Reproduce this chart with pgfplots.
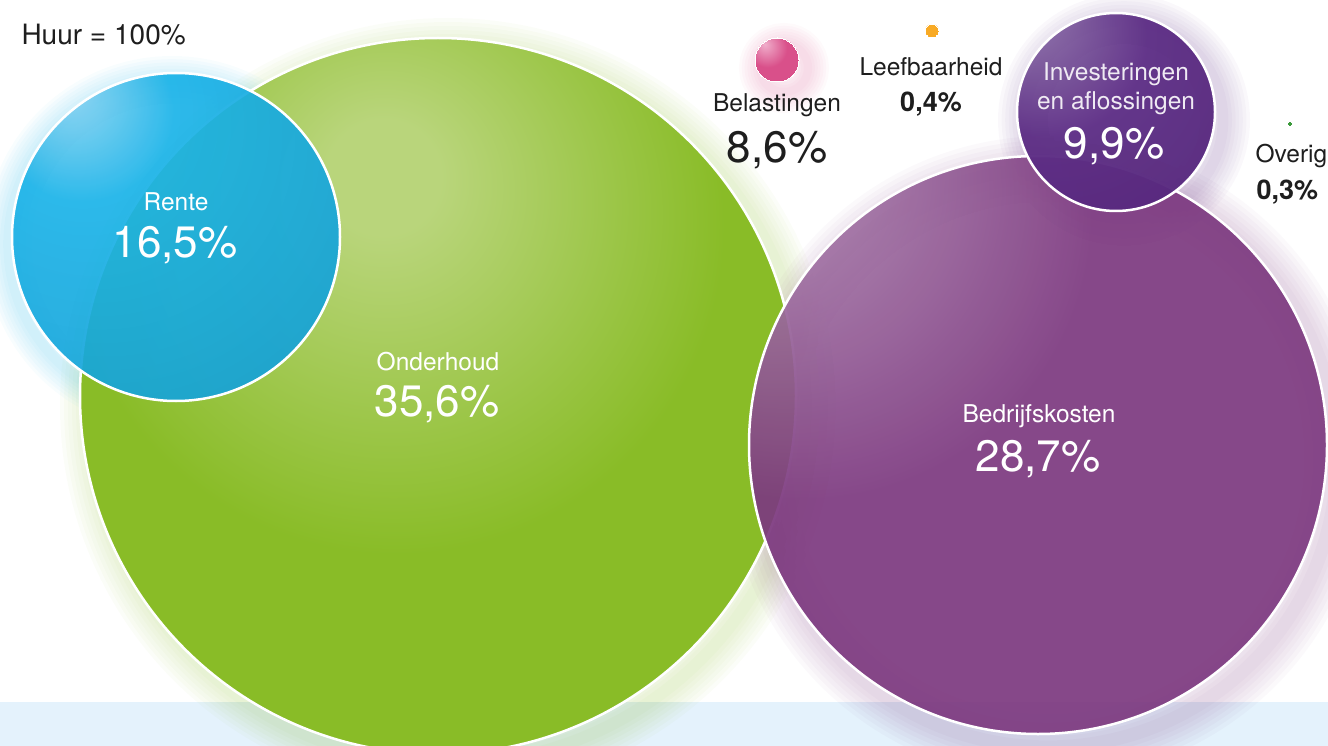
\documentclass[border=0pt]{standalone}
\usepackage{pgfplots}
\pgfplotsset{compat=1.18}
\usepackage{fontspec}
\setmainfont{TeX Gyre Heros}

\definecolor{greenmain}{HTML}{89BC27}
\definecolor{greenlight}{HTML}{B9D57B}
\definecolor{bluemain}{HTML}{1AB3E8}
\definecolor{bluelight}{HTML}{93D6F3}
\definecolor{bluedark}{HTML}{15A0D5}
\definecolor{purmain}{HTML}{7D3A80}
\definecolor{purlight}{HTML}{B794B9}
\definecolor{invmain}{HTML}{5E2F86}
\definecolor{invlight}{HTML}{9479AE}
\definecolor{invdark}{HTML}{532579}
\definecolor{pinkmain}{HTML}{D9508A}
\definecolor{pinklight}{HTML}{F0AECB}
\definecolor{orangemain}{HTML}{F8AA25}
\definecolor{dotgreen}{HTML}{3C9A3C}
\definecolor{bandblue}{HTML}{E4F2FC}
\definecolor{txt}{HTML}{1E1E1E}

\pgfdeclareradialshading{shgreen}{\pgfpoint{-4bp}{16bp}}{color(0bp)=(greenlight); color(4bp)=(greenlight); color(23bp)=(greenmain); color(90bp)=(greenmain)}
\pgfdeclareradialshading{shblue}{\pgfpoint{-17bp}{23bp}}{color(0bp)=(bluelight); color(14bp)=(bluemain); color(45bp)=(bluedark); color(90bp)=(bluedark)}
\pgfdeclareradialshading{shpurple}{\pgfpoint{-27bp}{27bp}}{color(0bp)=(purlight); color(25bp)=(purmain); color(100bp)=(purmain)}
\pgfdeclareradialshading{shinv}{\pgfpoint{-24bp}{26bp}}{color(0bp)=(invlight); color(26bp)=(invmain); color(60bp)=(invdark); color(100bp)=(invdark)}
\pgfdeclareradialshading{shpink}{\pgfpoint{-14bp}{18bp}}{color(0bp)=(pinklight); color(22bp)=(pinkmain); color(90bp)=(pinkmain)}
\pgfdeclareradialshading{shorange}{\pgfpointorigin}{color(0bp)=(orangemain); color(90bp)=(orangemain)}
\pgfdeclareradialshading{shdot}{\pgfpointorigin}{color(0bp)=(dotgreen); color(90bp)=(dotgreen)}

\pgfdeclareplotmark{empty}{}
\pgfplotsset{
  halo/.style 2 args={only marks, mark=empty, scatter,
    visualization depends on={\thisrow{r}\as\rad},
    scatter/@pre marker code/.code={%
      \foreach \k in {3.0,2.6,2.2,1.8,1.4,1.0,0.6}{%
        \draw[#1, line width=\k*#2, draw opacity=0.03] (canvas cs:x=0pt,y=0pt) circle[radius=\rad pt];}},
    scatter/@post marker code/.code={}},
  bubble/.style n args={3}{only marks, mark=empty, scatter,
    visualization depends on={\thisrow{r}\as\rad},
    scatter/@pre marker code/.code={\shade[shading=#1, fill opacity=#2, draw=white, line width=#3] (canvas cs:x=0pt,y=0pt) circle[radius=\rad pt];},
    scatter/@post marker code/.code={}},
  frame/.style={at={(0,0)}, anchor=south west, scale only axis,
  width=1328pt, height=746pt, xmin=0, xmax=1328, ymin=0, ymax=746,
  y dir=reverse, hide axis, clip=false},
}

\begin{document}
\begin{tikzpicture}
\begin{axis}[frame]
\fill[bandblue] (axis cs:0,702) rectangle (axis cs:1328,746);
% halos (soft glow, slightly offset)
\addplot[halo={greenmain}{20pt}] table {
x y r
448 406 358
};
\addplot[halo={bluemain}{16pt}] table {
x y r
172 244 164
};
\addplot[halo={purmain}{22pt}] table {
x y r
1048 458 289
};
\addplot[halo={invmain}{18pt}] table {
x y r
1124 120 99
};
\addplot[halo={pinkmain}{14pt}] table {
x y r
784 68 24
};
% bubbles
\addplot[bubble={shgreen}{1}{2.5pt}] table {
x y r
438 396 358
};
\addplot[bubble={shblue}{0.92}{2.5pt}] table {
x y r
176 237 164
};
\addplot[bubble={shpurple}{0.93}{2.5pt}] table {
x y r
1038 445 289
};
\addplot[bubble={shinv}{0.97}{2.5pt}] table {
x y r
1116 112 99
};
\addplot[bubble={shpink}{1}{0pt}] table {
x y r
777 60 22
};
\addplot[bubble={shorange}{1}{0pt}] table {
x y r
932 31 7
};
\addplot[bubble={shdot}{1}{0pt}] table {
x y r
1290 124 2.5
};
\end{axis}
\begin{axis}[frame]
\node[txt, anchor=west, font=\fontsize{28}{32}\selectfont] at (axis cs:18,35) {Huur = 100\%};
\node[white, font=\fontsize{24.5}{28}\selectfont] at (axis cs:176,202) {Rente};
\node[white, font=\fontsize{44}{48}\selectfont] at (axis cs:175,245) {16,5\%};
\node[white, font=\fontsize{24.5}{28}\selectfont] at (axis cs:438,362) {Onderhoud};
\node[white, font=\fontsize{44}{48}\selectfont] at (axis cs:437,404) {35,6\%};
\node[white, font=\fontsize{24.5}{28}\selectfont] at (axis cs:1039,416) {Bedrijfskosten};
\node[white, font=\fontsize{44}{48}\selectfont] at (axis cs:1038,459) {28,7\%};
\node[txt, font=\fontsize{24.5}{28}\selectfont] at (axis cs:777,105) {Belastingen};
\node[txt, font=\fontsize{44}{48}\selectfont] at (axis cs:777,150) {8,6\%};
\node[txt, font=\fontsize{24.5}{28}\selectfont] at (axis cs:931,67) {Leefbaarheid};
\node[txt, font=\bfseries\fontsize{27}{31}\selectfont] at (axis cs:931,104) {0,4\%};
\node[white!90!invmain, font=\fontsize{24.5}{28}\selectfont] at (axis cs:1116,74) {Investeringen};
\node[white!90!invmain, font=\fontsize{24.5}{28}\selectfont] at (axis cs:1116,103) {en aflossingen};
\node[white, font=\fontsize{44}{48}\selectfont] at (axis cs:1114,146) {9,9\%};
\node[txt, anchor=west, font=\fontsize{24.5}{28}\selectfont] at (axis cs:1252,156) {Overig};
\node[txt, anchor=west, font=\bfseries\fontsize{27}{31}\selectfont] at (axis cs:1253,192) {0,3\%};
\end{axis}
\pgfresetboundingbox
\path[use as bounding box] (0,0) rectangle (1328pt,746pt);
\end{tikzpicture}
\end{document}
